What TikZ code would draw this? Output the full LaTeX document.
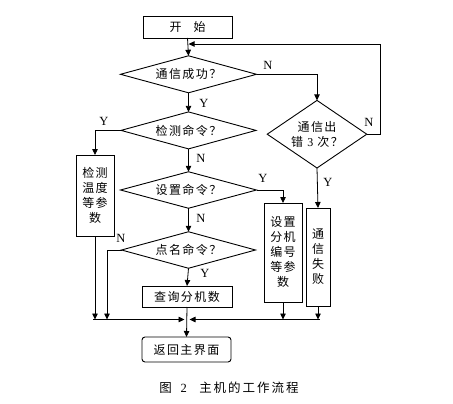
\documentclass[tikz,border=0pt]{standalone}
\usepackage{fontspec}
\setmainfont{Liberation Serif}
\newfontfamily\cjk[LetterSpace=12]{Noto Sans CJK SC}
\newfontfamily\cjkcap[LetterSpace=16]{Noto Sans CJK SC}
\usetikzlibrary{shapes.geometric,arrows.meta}
\begin{document}
\begin{tikzpicture}[x=1pt,y=-1pt,
  every node/.style={inner sep=0pt, outer sep=0pt},
  box/.style={draw, line width=0.9pt, font=\cjk\fontsize{12}{15}\selectfont, align=center},
  dia/.style={draw, diamond, line width=0.9pt, font=\cjk\fontsize{12}{15}\selectfont, align=center, inner sep=0pt},
  lbl/.style={font=\fontsize{12.5}{12.5}\selectfont},
  conn/.style={line width=0.8pt},
  arr/.style={conn, -{Triangle[length=6pt,width=5.5pt]}},
]
\useasboundingbox (0,0) rectangle (453,404);
% nodes
\node[box, minimum width=89pt, minimum height=22pt] (start) at (187.5,27) {开\hspace{1em}始};
\node[dia, aspect=3.7, minimum width=136pt, minimum height=37pt] (d1) at (188.5,74.3) {通信成功？};
\node[dia, aspect=3.7, minimum width=135pt, minimum height=37pt] (d2) at (188.5,130.4) {检测命令？};
\node[dia, aspect=3.7, minimum width=136pt, minimum height=36.5pt] (d3) at (188.5,190) {设置命令？};
\node[dia, aspect=3.7, minimum width=134pt, minimum height=36.5pt] (d4) at (188.5,250) {点名命令？};
\node[dia, aspect=1.46, minimum width=99.5pt, minimum height=67.6pt] (d5) at (317,134.2) {通信出\\错 {\rmfamily 3} 次？};
\node[box, minimum width=38pt, minimum height=81pt] (b1) at (95,195.5) {检测\\温度\\等参\\数};
\node[box, minimum width=38pt, minimum height=99pt] (b2) at (283,252.5) {设置\\分机\\编号\\等参\\数};
\node[box, minimum width=24pt, minimum height=98pt] (b3) at (318,257) {通\\信\\失\\败};
\node[box, minimum width=90pt, minimum height=21pt] (q) at (187,296.5) {查询分机数};
\node[box, rounded corners=3pt, minimum width=89pt, minimum height=25pt] (r) at (186.5,349.5) {返回主界面};
\node[font=\cjkcap\fontsize{12.5}{15}\selectfont] (cap) at (229,388) {图\hspace{0.7em}{\rmfamily 2}\hspace{1em}主机的工作流程};
% labels
\node[lbl] (l1) at (204,103) {Y};
\node[lbl] (l2) at (268,65) {N};
\node[lbl] (l3) at (104,121) {Y};
\node[lbl] (l4) at (201,158) {N};
\node[lbl] (l5) at (263,178) {Y};
\node[lbl] (l6) at (201,218) {N};
\node[lbl] (l7) at (121,238) {N};
\node[lbl] (l8) at (205,273) {Y};
\node[lbl] (l9) at (328,182) {Y};
\node[lbl] (l10) at (369,122) {N};
% coordinates
\coordinate (busL) at (93,319.5);
\coordinate (busR) at (320,319.5);
\coordinate (fbA) at (380,134.2);
\coordinate (fbB) at (380,44);
\coordinate (fbC) at (188.6,44);
\coordinate (d1r) at (317,74.3);
\coordinate (d2l) at (95,130.4);
\coordinate (d3r) at (283,190);
\coordinate (d4l) at (107,250);
% connectors
\draw[arr] (start.south) -- (d1.north);
\draw[arr] (d5.east) -- (fbA) -- (fbB) -- (fbC);
\draw[arr] (d1.east) -- (d1r) -- (d5.north);
\draw[arr] (d1.south) -- (d2.north);
\draw[arr] (d2.west) -- (d2l) -- (b1.north);
\draw[arr] (d2.south) -- (d3.north);
\draw[arr] (d3.east) -- (d3r) -- (b2.north);
\draw[arr] (d3.south) -- (d4.north);
\draw[arr] (d4.west) -- (d4l) -- (d4l |- busL);
\draw[arr] (d4.south) -- (q.north);
\draw[arr] (d5.south) -- (b3.north);
\draw[arr] (b1.south) -- (b1.south |- busL);
\draw[arr] (b2.south) -- (b2.south |- busL);
\draw[arr] (b3.south) -- (b3.south |- busL);
\draw[arr] (busL) -- (184.5,319.5);
\draw[arr] (busR) -- (189.5,319.5);
\draw[arr] (q.south) -- (r.north);
\end{tikzpicture}
\end{document}
